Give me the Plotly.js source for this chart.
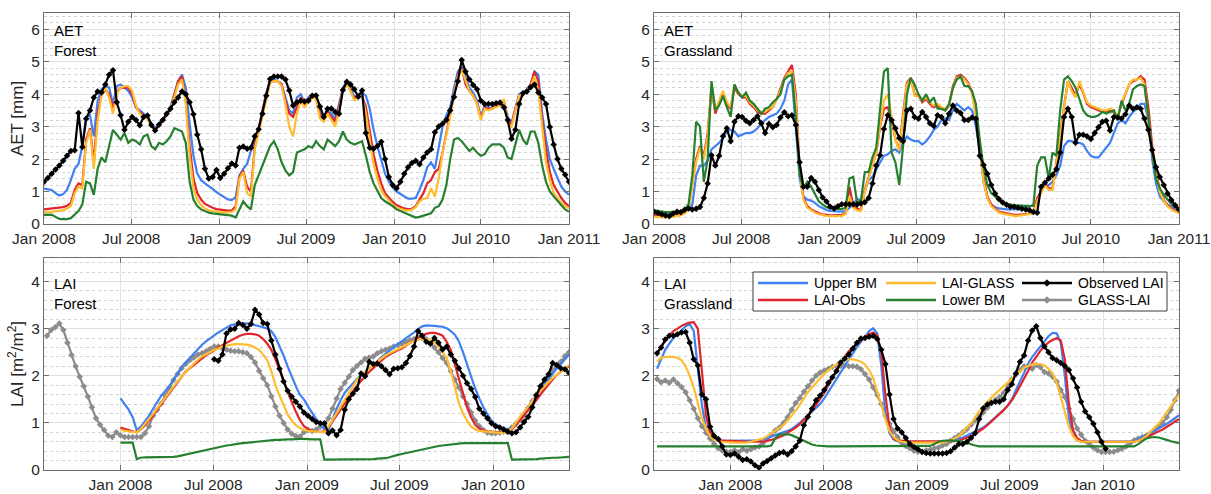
<!DOCTYPE html>
<html>
<head>
<meta charset="utf-8">
<script src="https://cdn.plot.ly/plotly-3.0.1.min.js"></script>
<style>
  html, body { margin: 0; padding: 0; background: #ffffff; }
  #chart { width: 1211px; height: 494px; }
</style>
</head>
<body>
<div id="chart"></div>
<script>
// ---------------------------------------------------------------
// Time grids (8-day composites)
// ---------------------------------------------------------------
const STEP_DAYS = 8;
const AET_START = '2008-01-01';          // AET panels
const LAI_START = '2007-08-10';          // GLASS / grassland LAI series
const LAI_FOREST_MODEL_START = '2008-01-01';
const LAI_FOREST_OBS_START = '2008-07-03';

// ---------------------------------------------------------------
// AET – Forest [mm]
// ---------------------------------------------------------------
const aetForestUpper = [
  1.09,1.08,1.05,0.95,0.88,0.92,1.05,1.35,1.70,1.85,
  2.40,3.30,3.35,2.70,3.80,4.15,4.25,4.20,3.70,4.25,
  4.30,4.20,4.10,3.90,3.60,3.50,3.40,3.30,3.10,2.95,
  3.10,3.25,3.35,3.60,4.00,4.40,4.60,4.20,3.10,2.10,
  1.55,1.35,1.25,1.15,1.08,0.98,0.90,0.82,0.76,0.74,
  0.82,1.50,1.70,1.85,2.25,2.55,2.90,3.50,4.05,4.40,
  4.45,4.40,4.30,3.90,3.50,3.40,3.90,4.00,3.75,3.90,
  4.00,3.95,3.40,3.30,3.50,3.40,3.25,3.70,4.20,4.40,
  4.20,3.90,4.00,4.05,3.95,3.55,2.90,2.40,1.95,1.55,
  1.30,1.12,1.00,0.92,0.85,0.78,0.78,0.80,1.05,1.35,
  1.75,1.90,1.70,2.30,3.00,3.35,3.60,4.20,4.70,4.85,
  4.50,4.20,4.05,3.80,3.30,3.65,3.55,3.60,3.65,3.70,
  3.80,3.30,3.10,3.60,4.00,4.05,4.15,4.30,4.70,4.60,
  3.40,2.60,2.00,1.70,1.40,1.15,1.00,0.90
];
const aetForestLaiObs = [
  0.45,0.46,0.47,0.48,0.50,0.52,0.56,0.65,1.05,1.25,
  1.20,2.60,2.95,1.90,3.40,4.00,4.15,4.00,3.55,4.05,
  4.20,4.20,4.20,4.00,3.60,3.45,3.35,3.25,3.05,2.90,
  3.05,3.20,3.35,3.55,3.95,4.40,4.55,3.80,2.40,1.40,
  0.95,0.75,0.62,0.55,0.50,0.46,0.44,0.42,0.41,0.42,
  0.55,1.45,1.65,1.15,1.00,2.40,2.90,3.40,4.00,4.35,
  4.40,4.40,4.30,3.80,3.40,3.30,3.60,3.90,3.70,3.85,
  3.95,3.90,3.35,3.25,3.45,3.30,3.15,3.60,4.15,4.35,
  4.10,3.85,3.95,3.95,3.60,2.85,2.15,1.65,1.25,0.95,
  0.80,0.68,0.58,0.52,0.48,0.46,0.47,0.55,0.75,0.95,
  1.25,1.35,1.60,1.70,2.20,2.80,3.40,4.10,4.60,4.80,
  4.30,4.10,3.95,3.70,3.25,3.60,3.55,3.55,3.65,3.70,
  3.80,3.20,3.05,3.55,3.95,4.00,4.10,4.30,4.70,4.40,
  3.20,2.30,1.60,1.20,1.00,0.80,0.65,0.55
];
const aetForestLaiGlass = [
  0.35,0.36,0.37,0.38,0.40,0.42,0.48,0.55,0.95,1.15,
  1.10,2.50,2.90,1.70,3.20,3.95,4.20,3.90,3.40,4.00,
  4.20,4.25,4.25,4.10,3.65,3.40,3.30,3.25,3.00,2.90,
  3.05,3.20,3.40,3.55,3.90,4.30,4.45,3.70,2.10,1.10,
  0.75,0.58,0.48,0.42,0.40,0.38,0.37,0.36,0.36,0.37,
  0.45,1.40,1.60,0.95,0.85,2.30,2.80,3.30,3.90,4.35,
  4.40,4.40,4.25,3.70,3.00,2.70,3.40,3.80,3.60,3.75,
  3.90,3.85,3.25,3.15,3.40,3.20,3.00,3.50,4.10,4.30,
  4.10,3.80,3.95,3.95,3.40,2.60,1.85,1.40,1.05,0.85,
  0.72,0.60,0.50,0.46,0.43,0.42,0.44,0.52,0.70,0.78,
  0.80,1.10,0.85,1.40,2.20,2.75,3.30,4.00,4.55,4.75,
  4.40,4.10,3.95,3.70,3.20,3.55,3.50,3.55,3.60,3.65,
  3.85,3.10,3.00,3.50,3.95,4.00,4.10,4.25,4.55,4.10,
  2.90,1.90,1.35,0.95,0.80,0.65,0.55,0.48
];
const aetForestLower = [
  0.28,0.29,0.29,0.22,0.16,0.15,0.15,0.18,0.30,0.40,
  0.60,1.30,1.25,0.90,1.70,2.05,1.90,2.40,2.90,2.75,
  2.60,2.80,2.50,2.60,2.55,2.45,2.70,2.75,2.40,2.30,
  2.50,2.45,2.55,2.70,2.95,2.90,2.85,2.50,1.30,0.75,
  0.55,0.45,0.40,0.35,0.33,0.32,0.31,0.30,0.28,0.26,
  0.20,0.45,0.70,0.55,0.45,1.20,1.50,1.75,2.10,2.40,
  2.55,2.30,1.90,1.65,1.50,1.60,2.20,2.25,2.30,2.40,
  2.35,2.55,2.40,2.30,2.60,2.50,2.40,2.55,2.85,2.60,
  2.50,2.45,2.50,2.55,2.10,1.60,1.25,1.00,0.80,0.70,
  0.63,0.55,0.45,0.40,0.36,0.32,0.26,0.20,0.22,0.25,
  0.28,0.33,0.50,0.55,0.75,1.20,2.00,2.60,2.65,2.55,
  2.40,2.25,2.35,2.20,2.10,2.15,2.35,2.45,2.45,2.45,
  2.35,2.05,2.00,2.50,2.90,2.60,2.45,2.85,2.85,2.50,
  1.80,1.30,1.00,0.85,0.70,0.58,0.45,0.38
];
const aetForestObserved = [
  1.30,1.42,1.55,1.68,1.80,1.95,2.10,2.25,2.27,3.42,
  2.37,3.24,3.50,3.90,4.08,4.05,4.30,4.60,4.74,3.75,
  3.35,2.90,3.15,3.30,3.20,3.04,3.30,3.34,3.05,2.88,
  3.06,3.20,3.40,3.55,3.75,3.90,4.08,4.00,3.75,3.38,
  2.75,2.30,1.70,1.40,1.45,1.66,1.42,1.55,1.72,1.86,
  1.80,2.35,2.39,2.32,2.35,2.70,2.92,3.40,3.95,4.47,
  4.54,4.54,4.54,4.45,4.11,3.65,3.75,3.80,3.77,3.80,
  3.95,3.96,3.62,3.30,3.55,3.56,3.45,3.40,4.13,4.38,
  4.30,4.15,3.92,4.11,2.80,2.35,2.32,2.40,2.53,2.00,
  1.45,1.20,1.10,1.30,1.55,1.75,1.88,1.95,1.84,2.05,
  2.20,2.30,2.83,3.00,3.09,3.20,3.50,3.91,4.40,5.05,
  4.70,4.45,4.28,4.15,3.80,3.70,3.70,3.70,3.72,3.74,
  3.60,3.20,2.63,2.90,3.70,4.03,4.08,4.21,4.30,4.05,
  3.90,3.70,2.99,2.45,2.00,1.70,1.52,1.30
];

// ---------------------------------------------------------------
// AET – Grassland [mm]
// ---------------------------------------------------------------
const aetGrassUpper = [
  0.35,0.34,0.33,0.33,0.33,0.34,0.35,0.37,0.42,0.45,
  0.60,1.50,1.80,1.80,1.95,2.30,2.40,2.50,2.65,2.85,
  2.90,2.85,2.70,2.75,2.80,2.80,2.85,2.95,3.10,3.20,
  3.30,3.35,3.40,3.55,3.80,4.30,4.45,3.00,1.40,0.85,
  0.75,0.72,0.65,0.55,0.48,0.43,0.40,0.39,0.38,0.38,
  0.40,0.50,0.60,0.78,0.72,1.00,1.35,1.45,1.70,1.90,
  2.10,2.15,2.25,2.30,2.20,2.50,2.70,2.60,2.55,2.55,
  2.45,2.55,2.70,2.90,3.00,3.20,3.25,3.20,3.50,3.70,
  3.60,3.50,3.60,3.50,3.00,2.30,1.30,0.80,0.60,0.52,
  0.48,0.46,0.45,0.45,0.45,0.45,0.46,0.48,0.55,0.60,
  0.60,1.10,1.15,1.20,1.30,1.50,1.80,2.40,2.55,2.55,
  2.50,2.50,2.45,2.25,2.10,2.05,2.05,2.20,2.35,2.50,
  2.80,3.10,3.20,3.10,3.30,3.45,3.55,3.70,3.70,3.20,
  2.00,1.25,0.85,0.70,0.60,0.52,0.45,0.40
];
const aetGrassLaiObs = [
  0.28,0.27,0.26,0.26,0.27,0.28,0.30,0.33,0.38,0.50,
  1.30,2.00,2.40,2.10,2.80,4.20,3.40,3.75,4.05,3.70,
  3.55,4.20,4.00,3.90,3.90,3.70,3.60,3.45,3.40,3.40,
  3.50,3.60,3.85,4.15,4.50,4.70,4.90,4.00,1.70,0.80,
  0.55,0.45,0.38,0.33,0.30,0.28,0.27,0.27,0.27,0.28,
  0.32,1.15,0.55,0.48,0.42,1.05,1.45,1.80,2.20,3.00,
  3.55,3.60,3.20,2.60,2.30,3.40,4.35,4.50,4.00,3.95,
  3.75,3.85,3.70,3.60,3.65,3.55,3.50,3.65,4.25,4.55,
  4.60,4.50,4.35,4.05,3.40,2.50,1.40,0.85,0.60,0.48,
  0.38,0.35,0.32,0.30,0.28,0.28,0.29,0.30,0.32,0.35,
  0.80,1.00,1.25,1.10,1.10,1.90,2.80,3.60,4.40,4.20,
  3.95,4.30,4.05,3.70,3.60,3.55,3.50,3.45,3.45,3.50,
  3.45,3.30,3.70,4.00,4.30,4.40,4.45,4.55,4.45,3.60,
  2.40,1.60,1.05,0.75,0.58,0.48,0.40,0.35
];
const aetGrassLaiGlass = [
  0.22,0.21,0.20,0.20,0.21,0.22,0.24,0.27,0.33,0.45,
  1.20,1.90,2.35,2.00,2.70,4.25,3.50,3.80,4.10,3.75,
  3.60,4.30,4.05,3.95,3.95,3.75,3.65,3.50,3.45,3.45,
  3.55,3.60,3.85,4.10,4.45,4.65,4.70,3.80,1.60,0.75,
  0.50,0.42,0.35,0.30,0.27,0.25,0.24,0.24,0.24,0.25,
  0.30,0.85,0.50,0.42,0.40,1.00,1.40,1.80,2.20,3.05,
  3.80,4.00,3.30,2.60,2.25,3.30,4.30,4.45,3.95,3.95,
  3.80,3.90,3.75,3.65,3.70,3.60,3.55,3.65,4.20,4.50,
  4.55,4.45,4.30,4.00,3.30,2.40,1.30,0.80,0.55,0.45,
  0.35,0.32,0.29,0.27,0.25,0.25,0.27,0.28,0.30,0.33,
  0.70,0.95,1.20,1.05,1.05,1.85,2.70,3.60,4.40,4.10,
  3.90,4.40,4.10,3.75,3.65,3.60,3.55,3.50,3.50,3.55,
  3.50,3.30,3.75,4.00,4.30,4.45,4.45,4.50,4.30,3.20,
  2.20,1.50,1.00,0.72,0.55,0.45,0.38,0.33
];
const aetGrassLower = [
  0.42,0.40,0.38,0.37,0.37,0.37,0.38,0.40,0.45,0.60,
  1.50,3.15,3.00,1.30,2.00,4.40,3.50,3.65,3.95,3.60,
  3.30,4.30,4.05,3.90,4.05,3.80,3.70,3.55,3.40,3.55,
  3.60,3.75,3.85,4.00,4.45,4.55,4.60,3.30,1.50,1.10,
  1.30,1.15,0.90,0.70,0.60,0.52,0.49,0.48,0.47,0.46,
  0.50,1.40,1.45,0.65,0.72,1.60,1.60,2.05,2.35,3.60,
  4.70,4.80,2.20,1.90,1.20,2.40,4.00,4.50,4.30,4.00,
  3.80,4.00,3.75,3.90,3.55,3.55,3.50,3.70,4.20,4.45,
  4.55,4.25,4.25,4.10,3.70,2.60,1.75,1.20,0.95,0.85,
  0.72,0.66,0.62,0.60,0.58,0.57,0.56,0.55,0.55,0.56,
  1.80,2.05,2.05,1.40,2.20,2.10,3.50,4.45,4.55,4.40,
  4.20,3.85,3.50,3.35,3.30,3.30,3.35,3.45,3.40,3.45,
  3.50,3.20,3.80,3.50,3.70,4.15,4.25,4.30,4.25,3.30,
  2.20,1.40,1.10,0.90,0.75,0.62,0.52,0.45
];
const aetGrassObserved = [
  0.38,0.35,0.30,0.26,0.24,0.32,0.38,0.36,0.44,0.48,
  0.45,0.47,0.52,0.80,1.25,2.12,1.80,2.10,2.70,2.95,
  2.55,3.15,3.32,3.30,3.18,3.10,3.20,3.32,3.10,2.80,
  3.08,2.98,3.05,3.28,3.44,3.32,3.35,3.05,1.90,1.15,
  1.15,1.42,1.30,1.05,0.82,0.69,0.53,0.48,0.55,0.61,
  0.61,0.61,0.61,0.60,0.63,0.67,0.80,1.25,1.80,2.12,
  2.93,3.35,3.20,2.95,2.65,2.55,3.50,3.55,3.30,3.24,
  3.45,3.30,3.10,3.02,3.35,3.30,3.10,3.40,3.65,3.50,
  3.42,3.20,3.20,3.28,3.24,2.10,1.82,1.55,1.20,0.94,
  0.77,0.66,0.59,0.53,0.53,0.50,0.47,0.45,0.42,0.37,
  0.35,1.15,1.27,1.40,1.52,1.69,2.20,3.30,3.55,3.30,
  2.50,2.75,2.75,2.70,2.62,2.80,2.98,3.15,3.18,2.88,
  3.30,3.28,3.25,3.38,3.65,3.55,3.60,3.55,3.25,2.90,
  2.28,1.75,1.45,1.20,0.94,0.74,0.58,0.45
];

// ---------------------------------------------------------------
// LAI – Forest [m2/m2]
// ---------------------------------------------------------------
const laiForestUpper = [
  1.52,1.40,1.28,1.12,0.84,0.92,1.03,1.15,1.30,1.45,
  1.58,1.68,1.78,1.92,2.05,2.18,2.28,2.38,2.48,2.58,
  2.66,2.73,2.80,2.86,2.92,2.97,3.02,3.07,3.09,3.10,
  3.11,3.11,3.10,3.08,3.06,3.03,3.00,2.95,2.82,2.64,
  2.43,2.20,1.98,1.78,1.60,1.50,1.35,1.20,1.08,0.99,
  0.86,0.84,1.08,1.30,1.48,1.64,1.74,1.84,1.93,2.01,
  2.08,2.16,2.23,2.31,2.39,2.47,2.55,2.61,2.67,2.73,
  2.80,2.86,2.92,2.99,3.05,3.07,3.07,3.06,3.05,3.04,
  3.01,2.95,2.87,2.73,2.50,2.24,1.97,1.73,1.52,1.33,
  1.18,1.05,0.97,0.92,0.89,0.86,0.88,0.97,1.12,1.24,
  1.35,1.47,1.58,1.70,1.81,1.93,2.05,2.16,2.25,2.35,2.45
];
const laiForestLaiObs = [
  0.90,0.87,0.84,0.82,0.80,0.86,0.95,1.05,1.16,1.28,
  1.40,1.52,1.64,1.75,1.86,1.98,2.09,2.16,2.24,2.31,
  2.38,2.44,2.49,2.55,2.60,2.65,2.70,2.75,2.80,2.84,
  2.87,2.89,2.89,2.88,2.85,2.78,2.68,2.55,2.35,2.14,
  1.90,1.66,1.44,1.24,1.06,0.93,0.87,0.83,0.82,0.81,
  0.82,0.90,1.03,1.16,1.29,1.43,1.55,1.67,1.79,1.90,
  1.99,2.08,2.16,2.24,2.32,2.40,2.45,2.50,2.54,2.58,
  2.64,2.70,2.74,2.80,2.86,2.89,2.91,2.91,2.89,2.85,
  2.72,2.55,2.25,1.90,1.60,1.33,1.12,0.96,0.88,0.84,
  0.82,0.81,0.80,0.79,0.79,0.79,0.86,0.96,1.06,1.16,
  1.26,1.36,1.48,1.60,1.72,1.82,1.92,2.02,2.09,2.15,2.20
];
const laiForestLaiGlass = [
  0.85,0.83,0.82,0.81,0.80,0.87,0.97,1.08,1.19,1.31,
  1.43,1.54,1.66,1.77,1.88,1.99,2.08,2.17,2.26,2.34,
  2.41,2.46,2.51,2.55,2.58,2.62,2.64,2.66,2.67,2.67,
  2.67,2.66,2.64,2.60,2.55,2.45,2.33,2.10,1.80,1.58,
  1.38,1.18,1.05,0.95,0.89,0.85,0.83,0.82,0.81,0.80,
  0.80,0.92,1.06,1.20,1.34,1.50,1.64,1.78,1.91,2.01,
  2.09,2.17,2.23,2.30,2.37,2.43,2.48,2.52,2.56,2.60,
  2.65,2.70,2.74,2.77,2.78,2.78,2.75,2.72,2.62,2.50,
  2.38,2.10,1.75,1.42,1.20,1.04,0.92,0.86,0.83,0.82,
  0.81,0.80,0.80,0.79,0.79,0.79,0.88,1.01,1.13,1.24,
  1.36,1.47,1.58,1.69,1.79,1.87,1.95,2.02,2.10,2.17,2.23
];
const laiForestLower = [
  0.58,0.58,0.58,0.58,0.23,0.26,0.27,0.27,0.27,0.27,
  0.27,0.28,0.28,0.28,0.29,0.31,0.33,0.34,0.36,0.38,
  0.40,0.42,0.44,0.46,0.48,0.50,0.52,0.53,0.55,0.56,
  0.57,0.58,0.59,0.60,0.61,0.62,0.62,0.63,0.64,0.64,
  0.65,0.65,0.65,0.66,0.66,0.66,0.65,0.65,0.65,0.65,
  0.22,0.22,0.22,0.22,0.22,0.22,0.22,0.22,0.22,0.22,
  0.22,0.23,0.23,0.24,0.24,0.25,0.27,0.30,0.32,0.34,
  0.36,0.38,0.40,0.42,0.44,0.46,0.47,0.49,0.51,0.52,
  0.53,0.55,0.56,0.57,0.57,0.57,0.57,0.57,0.57,0.57,
  0.57,0.57,0.57,0.57,0.57,0.57,0.22,0.22,0.22,0.22,
  0.22,0.22,0.23,0.24,0.25,0.25,0.26,0.26,0.27,0.27,0.28
];
const laiForestObserved = [
  2.35,2.32,2.45,2.90,2.98,3.00,3.12,3.08,3.00,3.10,
  3.40,3.30,3.12,3.10,2.75,2.45,2.15,1.88,1.68,1.56,
  1.45,1.35,1.22,1.15,1.08,1.02,0.99,0.99,0.78,0.84,
  0.74,0.85,1.28,1.50,1.62,1.72,2.05,1.99,2.30,2.25,
  2.26,2.20,2.12,2.03,2.15,2.16,2.18,2.27,2.42,2.62,
  2.95,2.85,2.72,2.68,2.80,2.70,2.56,2.62,2.45,2.32,
  2.16,2.00,1.84,1.72,1.55,1.30,1.20,1.10,0.99,0.93,
  0.90,0.86,0.81,0.78,0.80,0.90,1.02,1.13,1.33,1.58,
  1.78,1.92,2.03,2.27,2.23,2.16,2.14,2.06
];
const laiForestGlass = [
  2.85,2.97,3.03,3.11,2.97,2.70,2.44,2.20,1.98,1.78,
  1.56,1.33,1.10,0.96,0.85,0.73,0.70,0.80,0.74,0.70,
  0.70,0.70,0.70,0.70,0.78,0.93,1.15,1.28,1.41,1.58,
  1.75,1.91,2.04,2.16,2.25,2.33,2.39,2.45,2.48,2.52,
  2.57,2.62,2.62,2.58,2.55,2.53,2.52,2.52,2.50,2.48,
  2.40,2.28,2.10,1.95,1.80,1.56,1.35,1.15,1.00,0.86,
  0.77,0.72,0.71,0.80,0.85,0.83,0.86,0.92,0.96,1.10,
  1.30,1.52,1.72,1.85,1.98,2.12,2.21,2.28,2.36,2.39,
  2.41,2.48,2.52,2.55,2.58,2.62,2.65,2.68,2.72,2.76,
  2.78,2.80,2.80,2.78,2.70,2.60,2.50,2.38,2.27,2.10,
  1.92,1.75,1.56,1.40,1.22,1.05,0.93,0.85,0.79,0.78,
  0.78,0.79,0.81,0.84,0.90,0.98,1.06,1.15,1.32,1.46,
  1.60,1.71,1.82,1.95,2.12,2.20,2.30,2.42,2.50
];

// ---------------------------------------------------------------
// LAI – Grassland [m2/m2]
// ---------------------------------------------------------------
const laiGrassUpper = [
  2.15,2.37,2.55,2.68,2.80,2.88,2.97,3.05,3.10,2.95,
  2.15,1.38,0.88,0.73,0.65,0.63,0.62,0.62,0.62,0.62,
  0.62,0.62,0.62,0.62,0.62,0.63,0.65,0.68,0.71,0.73,
  0.76,0.79,0.83,0.87,0.93,1.00,1.08,1.16,1.24,1.32,
  1.40,1.52,1.65,1.79,1.93,2.07,2.21,2.35,2.48,2.61,
  2.72,2.82,2.95,3.01,2.90,2.20,1.20,0.78,0.65,0.61,
  0.60,0.60,0.60,0.60,0.60,0.60,0.60,0.60,0.60,0.60,
  0.60,0.60,0.62,0.64,0.66,0.69,0.73,0.77,0.81,0.85,
  0.90,0.97,1.04,1.12,1.20,1.28,1.37,1.50,1.70,1.88,
  2.06,2.26,2.40,2.51,2.62,2.73,2.84,2.91,2.90,2.70,
  2.00,1.10,0.75,0.63,0.60,0.60,0.60,0.60,0.60,0.60,
  0.60,0.60,0.60,0.60,0.60,0.60,0.60,0.61,0.65,0.70,
  0.74,0.78,0.83,0.87,0.92,0.98,1.04,1.10,1.16
];
const laiGrassLaiObs = [
  2.48,2.62,2.74,2.85,2.95,3.00,3.06,3.10,3.13,3.14,
  3.00,2.10,1.15,0.80,0.67,0.63,0.62,0.62,0.62,0.62,
  0.61,0.61,0.60,0.60,0.60,0.60,0.60,0.62,0.64,0.66,
  0.70,0.73,0.79,0.84,0.90,0.97,1.06,1.15,1.26,1.38,
  1.50,1.64,1.80,1.95,2.11,2.26,2.39,2.52,2.60,2.67,
  2.75,2.83,2.88,2.92,2.85,2.50,1.60,0.90,0.67,0.62,
  0.62,0.61,0.61,0.61,0.61,0.61,0.60,0.60,0.60,0.60,
  0.60,0.60,0.60,0.61,0.62,0.65,0.68,0.72,0.77,0.82,
  0.88,0.95,1.03,1.10,1.18,1.27,1.37,1.48,1.62,1.77,
  1.93,2.10,2.28,2.41,2.53,2.63,2.71,2.76,2.80,2.75,
  2.35,1.40,0.85,0.68,0.62,0.60,0.60,0.60,0.60,0.60,
  0.60,0.60,0.60,0.60,0.60,0.60,0.60,0.60,0.62,0.65,
  0.68,0.73,0.78,0.82,0.86,0.91,0.97,1.03,1.08
];
const laiGrassLaiGlass = [
  2.30,2.38,2.40,2.40,2.40,2.38,2.33,2.20,2.00,1.75,
  1.42,1.10,0.87,0.72,0.64,0.61,0.60,0.59,0.58,0.58,
  0.58,0.58,0.58,0.60,0.62,0.64,0.67,0.72,0.78,0.84,
  0.89,0.95,1.05,1.15,1.26,1.38,1.52,1.65,1.75,1.85,
  1.95,2.04,2.12,2.18,2.24,2.30,2.34,2.35,2.35,2.33,
  2.30,2.24,2.12,1.95,1.68,1.38,1.08,0.83,0.70,0.63,
  0.60,0.59,0.58,0.58,0.58,0.58,0.58,0.58,0.58,0.58,
  0.58,0.60,0.63,0.67,0.72,0.80,0.90,0.99,1.12,1.25,
  1.35,1.45,1.54,1.62,1.70,1.78,1.87,1.95,2.03,2.10,
  2.17,2.21,2.24,2.25,2.25,2.22,2.15,2.05,1.85,1.55,
  1.22,0.92,0.72,0.63,0.60,0.60,0.60,0.60,0.60,0.60,
  0.60,0.60,0.60,0.60,0.60,0.60,0.60,0.60,0.62,0.66,
  0.72,0.82,0.90,0.98,1.10,1.22,1.36,1.48,1.60
];
const laiGrassLower = [
  0.50,0.50,0.50,0.50,0.50,0.50,0.50,0.50,0.50,0.50,
  0.50,0.50,0.50,0.50,0.50,0.50,0.50,0.50,0.50,0.50,
  0.50,0.50,0.50,0.50,0.50,0.50,0.50,0.50,0.52,0.68,
  0.75,0.76,0.76,0.74,0.70,0.65,0.61,0.57,0.54,0.52,
  0.51,0.50,0.50,0.50,0.50,0.50,0.50,0.50,0.50,0.50,
  0.50,0.50,0.50,0.50,0.50,0.50,0.50,0.50,0.50,0.50,
  0.50,0.50,0.50,0.50,0.50,0.50,0.50,0.51,0.55,0.60,
  0.62,0.63,0.63,0.62,0.62,0.60,0.57,0.54,0.52,0.50,
  0.50,0.50,0.50,0.50,0.50,0.50,0.50,0.50,0.50,0.50,
  0.50,0.50,0.50,0.50,0.50,0.50,0.50,0.50,0.50,0.50,
  0.50,0.50,0.50,0.50,0.50,0.50,0.50,0.50,0.50,0.50,
  0.50,0.50,0.50,0.50,0.50,0.50,0.50,0.50,0.55,0.62,
  0.67,0.69,0.70,0.69,0.67,0.64,0.61,0.59,0.57
];
const laiGrassObserved = [
  2.48,2.60,2.77,2.85,2.85,2.88,2.92,2.93,2.70,2.35,
  2.22,1.60,1.50,0.92,0.72,0.66,0.50,0.33,0.32,0.35,
  0.28,0.21,0.23,0.18,0.10,0.05,0.14,0.19,0.25,0.31,
  0.36,0.38,0.33,0.40,0.50,0.62,0.95,1.13,1.30,1.48,
  1.58,1.70,1.85,1.97,2.10,2.28,2.36,2.45,2.58,2.70,
  2.79,2.80,2.83,2.85,2.78,2.55,2.25,1.60,1.08,0.88,
  0.80,0.68,0.55,0.49,0.44,0.38,0.36,0.35,0.35,0.35,
  0.35,0.36,0.40,0.48,0.55,0.55,0.60,0.68,0.78,1.08,
  1.31,1.39,1.43,1.45,1.45,1.50,1.70,1.82,2.05,2.30,
  2.43,2.75,2.96,3.05,2.80,2.62,2.50,2.38,2.33,2.27,
  2.21,2.12,1.95,1.75,1.45,1.24,1.12,0.98,0.80,0.60,
  0.45
];
const laiGrassGlass = [
  1.93,1.86,1.90,1.85,1.92,1.84,1.76,1.65,1.48,1.30,
  1.10,0.93,0.79,0.67,0.55,0.46,0.41,0.39,0.38,0.42,
  0.38,0.44,0.41,0.44,0.48,0.50,0.57,0.65,0.75,0.84,
  0.90,1.00,1.12,1.28,1.42,1.53,1.66,1.78,1.90,2.00,
  2.07,2.11,2.15,2.19,2.20,2.21,2.22,2.20,2.20,2.19,
  2.14,2.04,1.92,1.75,1.59,1.40,1.15,0.98,0.82,0.70,
  0.58,0.51,0.46,0.41,0.39,0.39,0.42,0.43,0.46,0.48,
  0.52,0.55,0.62,0.68,0.74,0.80,0.87,0.96,1.05,1.14,
  1.22,1.32,1.42,1.49,1.55,1.64,1.80,1.92,2.02,2.12,
  2.20,2.20,2.15,2.23,2.18,2.08,2.05,1.98,1.88,1.70,
  1.55,1.30,1.08,0.88,0.75,0.62,0.55,0.48,0.42,0.38,
  0.38,0.38,0.39,0.42,0.45,0.50,0.56,0.63,0.67,0.70,
  0.73,0.78,0.83,0.92,1.00,1.12,1.28,1.48,1.68
];

// Legend entries, laid out in two rows of three
const legendRows = [
  ['upper', 'laiGlass', 'observed'],
  ['laiObs', 'lower', 'glass']
];

// ---------------------------------------------------------------
// Styling
// ---------------------------------------------------------------
const FONT = 'Liberation Sans, Arial, sans-serif';
const TEXT = '#262626';
const AXIS = '#6e6e6e';
const C = {
  upper: '#4080f2',
  laiObs: '#e0262c',
  laiGlass: '#fdbd2e',
  lower: '#27802f',
  observed: '#000000',
  glass: '#8c8c8c'
};
const NAMES = {
  upper: 'Upper BM', laiObs: 'LAI-Obs', laiGlass: 'LAI-GLASS',
  lower: 'Lower BM', observed: 'Observed LAI', glass: 'GLASS-LAI'
};
const LINE_W = 2.2;
const MARKER_SIZE = 5;

function dateSeries(start, n, step) {
  const base = Date.parse(start + 'T00:00:00Z');
  const out = [];
  for (let i = 0; i < n; i++) {
    out.push(new Date(base + i * step * 86400000).toISOString().slice(0, 10));
  }
  return out;
}

function series(axisId, start, values, key) {
  const withMarkers = key === 'observed' || key === 'glass';
  const t = {
    type: 'scatter',
    x: dateSeries(start, values.length, STEP_DAYS),
    y: values,
    xaxis: 'x' + (axisId === 1 ? '' : axisId),
    yaxis: 'y' + (axisId === 1 ? '' : axisId),
    name: NAMES[key],
    mode: withMarkers ? 'lines+markers' : 'lines',
    line: { color: C[key], width: LINE_W },
    hoverinfo: 'skip',
    showlegend: false
  };
  if (withMarkers) {
    t.marker = { symbol: 'diamond', size: MARKER_SIZE, color: C[key] };
  }
  return t;
}

const traces = [
  // AET – Forest
  series(1, AET_START, aetForestUpper, 'upper'),
  series(1, AET_START, aetForestLaiObs, 'laiObs'),
  series(1, AET_START, aetForestLaiGlass, 'laiGlass'),
  series(1, AET_START, aetForestLower, 'lower'),
  series(1, AET_START, aetForestObserved, 'observed'),
  // AET – Grassland
  series(2, AET_START, aetGrassUpper, 'upper'),
  series(2, AET_START, aetGrassLaiObs, 'laiObs'),
  series(2, AET_START, aetGrassLaiGlass, 'laiGlass'),
  series(2, AET_START, aetGrassLower, 'lower'),
  series(2, AET_START, aetGrassObserved, 'observed'),
  // LAI – Forest
  series(3, LAI_START, laiForestGlass, 'glass'),
  series(3, LAI_FOREST_MODEL_START, laiForestUpper, 'upper'),
  series(3, LAI_FOREST_MODEL_START, laiForestLaiObs, 'laiObs'),
  series(3, LAI_FOREST_MODEL_START, laiForestLaiGlass, 'laiGlass'),
  series(3, LAI_FOREST_MODEL_START, laiForestLower, 'lower'),
  series(3, LAI_FOREST_OBS_START, laiForestObserved, 'observed'),
  // LAI – Grassland
  series(4, LAI_START, laiGrassGlass, 'glass'),
  series(4, LAI_START, laiGrassUpper, 'upper'),
  series(4, LAI_START, laiGrassLaiObs, 'laiObs'),
  series(4, LAI_START, laiGrassLaiGlass, 'laiGlass'),
  series(4, LAI_START, laiGrassLower, 'lower'),
  series(4, LAI_START, laiGrassObserved, 'observed')
];

// ---------------------------------------------------------------
// Axes
// ---------------------------------------------------------------
const W = 1211, H = 494;
const px = v => v / W;
const py = v => 1 - v / H;

function xAxis(domain, range, anchor) {
  return {
    domain: domain, range: range, anchor: anchor, type: 'date',
    tick0: '2008-01-01', dtick: 'M6', tickformat: '%b %Y',
    showline: true, linecolor: AXIS, linewidth: 1, mirror: 'ticks',
    ticks: 'inside', ticklen: 5, tickcolor: AXIS,
    showgrid: true, gridcolor: '#e2e2e2', gridwidth: 1,
    zeroline: false, fixedrange: true,
    tickfont: { family: FONT, size: 15.5, color: TEXT }
  };
}
function yAxis(domain, range, anchor, title) {
  const a = {
    domain: domain, range: range, anchor: anchor,
    tick0: 0, dtick: 1,
    showline: true, linecolor: AXIS, linewidth: 1, mirror: 'ticks',
    ticks: 'inside', ticklen: 5, tickcolor: AXIS,
    showgrid: true, gridcolor: '#e0e0e0', gridwidth: 1,
    minor: { dtick: 0.2, showgrid: true, gridcolor: '#d2d2d2', griddash: 'dot', gridwidth: 1 },
    zeroline: false, fixedrange: true,
    tickfont: { family: FONT, size: 15.5, color: TEXT }
  };
  if (title) {
    a.title = { text: title, font: { family: FONT, size: 17, color: TEXT }, standoff: 3 };
  }
  return a;
}

const xLeft = [px(44), px(569)];
const xRight = [px(654), px(1179)];
const yTop = [py(224), py(13)];
const yBottom = [py(470), py(258)];
const aetRange = ['2008-01-01', '2011-01-01'];
const laiRange = ['2007-08-04', '2010-05-30'];

function panelLabel(xref, yref, text, y) {
  return {
    xref: xref + ' domain', yref: yref + ' domain',
    x: 0.015, y: y, xanchor: 'left', yanchor: 'top', align: 'left',
    showarrow: false, text: text,
    font: { family: FONT, size: 15, color: '#000000' }
  };
}

// Legend box (paper coordinates, two rows x three columns)
const LEG = { x0: 753, x1: 1167, y0: 272, y1: 311, rowY: [283, 300], colX: [758, 886, 1022], lineLen: 50 };
const legendShapes = [{
  type: 'rect', xref: 'paper', yref: 'paper', layer: 'above',
  x0: px(LEG.x0), x1: px(LEG.x1), y0: py(LEG.y1), y1: py(LEG.y0),
  fillcolor: '#ffffff', line: { color: '#3a3a3a', width: 1 }
}];
const legendLabels = [];
legendRows.forEach((row, r) => {
  row.forEach((key, c) => {
    const x0 = LEG.colX[c], yc = LEG.rowY[r];
    legendShapes.push({
      type: 'line', xref: 'paper', yref: 'paper', layer: 'above',
      x0: px(x0), x1: px(x0 + LEG.lineLen), y0: py(yc), y1: py(yc),
      line: { color: C[key], width: LINE_W + 0.3 }
    });
    if (key === 'observed' || key === 'glass') {
      const cx = x0 + LEG.lineLen / 2, s = 3.2;
      legendShapes.push({
        type: 'path', xref: 'paper', yref: 'paper', layer: 'above',
        path: 'M' + px(cx) + ',' + py(yc - s) + ' L' + px(cx + s) + ',' + py(yc) +
              ' L' + px(cx) + ',' + py(yc + s) + ' L' + px(cx - s) + ',' + py(yc) + ' Z',
        fillcolor: C[key], line: { color: C[key], width: 1 }
      });
    }
    legendLabels.push({
      xref: 'paper', yref: 'paper', x: px(x0 + LEG.lineLen + 4), y: py(yc),
      xanchor: 'left', yanchor: 'middle', showarrow: false, text: NAMES[key],
      font: { family: FONT, size: 14, color: '#000000' }
    });
  });
});

const layout = {
  width: W, height: H, autosize: false,
  margin: { l: 0, r: 0, t: 0, b: 0 },
  paper_bgcolor: '#ffffff', plot_bgcolor: '#ffffff',
  font: { family: FONT, color: TEXT },
  hovermode: false,
  showlegend: false,
  xaxis: xAxis(xLeft, aetRange, 'y'),
  yaxis: yAxis(yTop, [0, 6.5], 'x', 'AET [mm]'),
  xaxis2: xAxis(xRight, aetRange, 'y2'),
  yaxis2: yAxis(yTop, [0, 6.5], 'x2'),
  xaxis3: xAxis(xLeft, laiRange, 'y3'),
  yaxis3: yAxis(yBottom, [0, 4.5], 'x3', 'LAI [m<sup>2</sup>/m<sup>2</sup>]'),
  xaxis4: xAxis(xRight, laiRange, 'y4'),
  yaxis4: yAxis(yBottom, [0, 4.5], 'x4'),
  annotations: [
    panelLabel('x', 'y', 'AET<br>Forest', 0.965),
    panelLabel('x2', 'y2', 'AET<br>Grassland', 0.965),
    panelLabel('x3', 'y3', 'LAI<br>Forest', 0.93),
    panelLabel('x4', 'y4', 'LAI<br>Grassland', 0.93)
  ].concat(legendLabels),
  shapes: legendShapes
};

Plotly.newPlot('chart', traces, layout, { displayModeBar: false, staticPlot: true });
</script>
</body>
</html>
